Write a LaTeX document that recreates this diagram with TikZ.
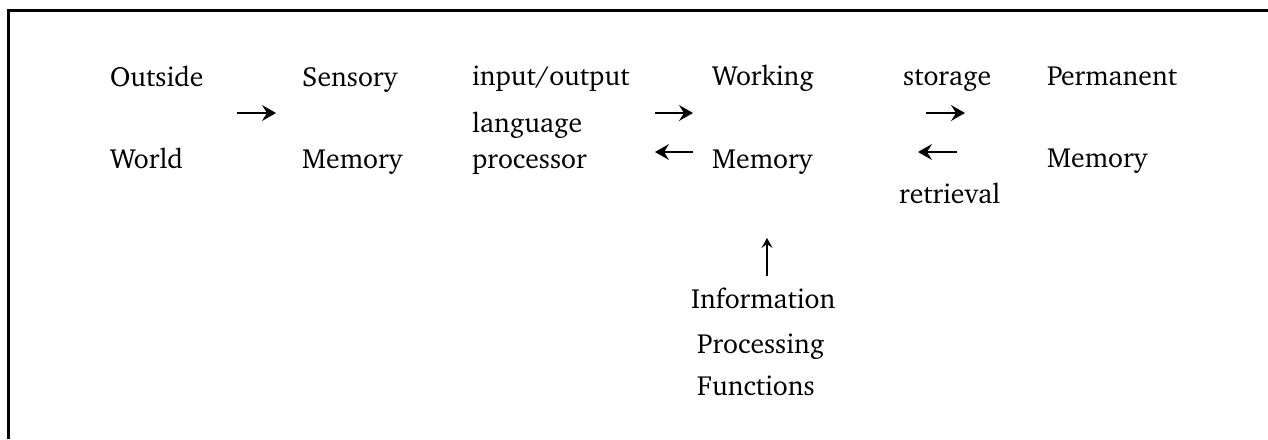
\documentclass[tikz,border=0pt]{standalone}
\usepackage[T1]{fontenc}
\usepackage{charter}
\usetikzlibrary{arrows.meta}
\begin{document}
\begin{tikzpicture}[x=1pt,y=-1pt,
  lbl/.style={anchor=base west,inner sep=0pt,font=\fontsize{27.7}{33}\selectfont},
  harrow/.style={line width=1.5pt,-{Stealth[length=14pt,width=16pt,inset=5pt]}},
  varrow/.style={line width=1.2pt,-{Stealth[length=10pt,width=11pt,inset=4pt]}},
  frame/.style={line width=3pt}]
\useasboundingbox (0,0) rectangle (1268,439);
\draw[frame] (8.5,439) -- (8.5,10) -- (1268,10);
% texts
\node[lbl] (out) at (110,86) {Outside};
\node[lbl] (world) at (110,168) {World};
\node[lbl] (sens) at (302,86) {Sensory};
\node[lbl] (smem) at (302,168) {Memory};
\node[lbl] (io) at (472,85) {input/output};
\node[lbl] (lang) at (472,132) {language};
\node[lbl] (proc) at (472,168) {processor};
\node[lbl] (work) at (712,85) {Working};
\node[lbl] (wmem) at (712,168) {Memory};
\node[lbl] (stor) at (903,85) {storage};
\node[lbl] (retr) at (899,203) {retrieval};
\node[lbl] (perm) at (1047,85) {Permanent};
\node[lbl] (pmem) at (1047,167) {Memory};
\node[lbl] (info) at (691,308) {Information};
\node[lbl] (procg) at (697,353) {Processing};
\node[lbl] (func) at (697,395) {Functions};
% arrow ends
\coordinate (a1s) at (237,113); \coordinate (a1e) at (276,113);
\coordinate (a2s) at (655,113); \coordinate (a2e) at (693,113);
\coordinate (a3s) at (693,152); \coordinate (a3e) at (655,152);
\coordinate (a4s) at (926,113); \coordinate (a4e) at (965,113);
\coordinate (a5s) at (957,152); \coordinate (a5e) at (918,152);
\coordinate (a6s) at (767,276); \coordinate (a6e) at (767,238);
\draw[harrow] (a1s) -- (a1e);
\draw[harrow] (a2s) -- (a2e);
\draw[harrow] (a3s) -- (a3e);
\draw[harrow] (a4s) -- (a4e);
\draw[harrow] (a5s) -- (a5e);
\draw[varrow] (a6s) -- (a6e);
\end{tikzpicture}
\end{document}
